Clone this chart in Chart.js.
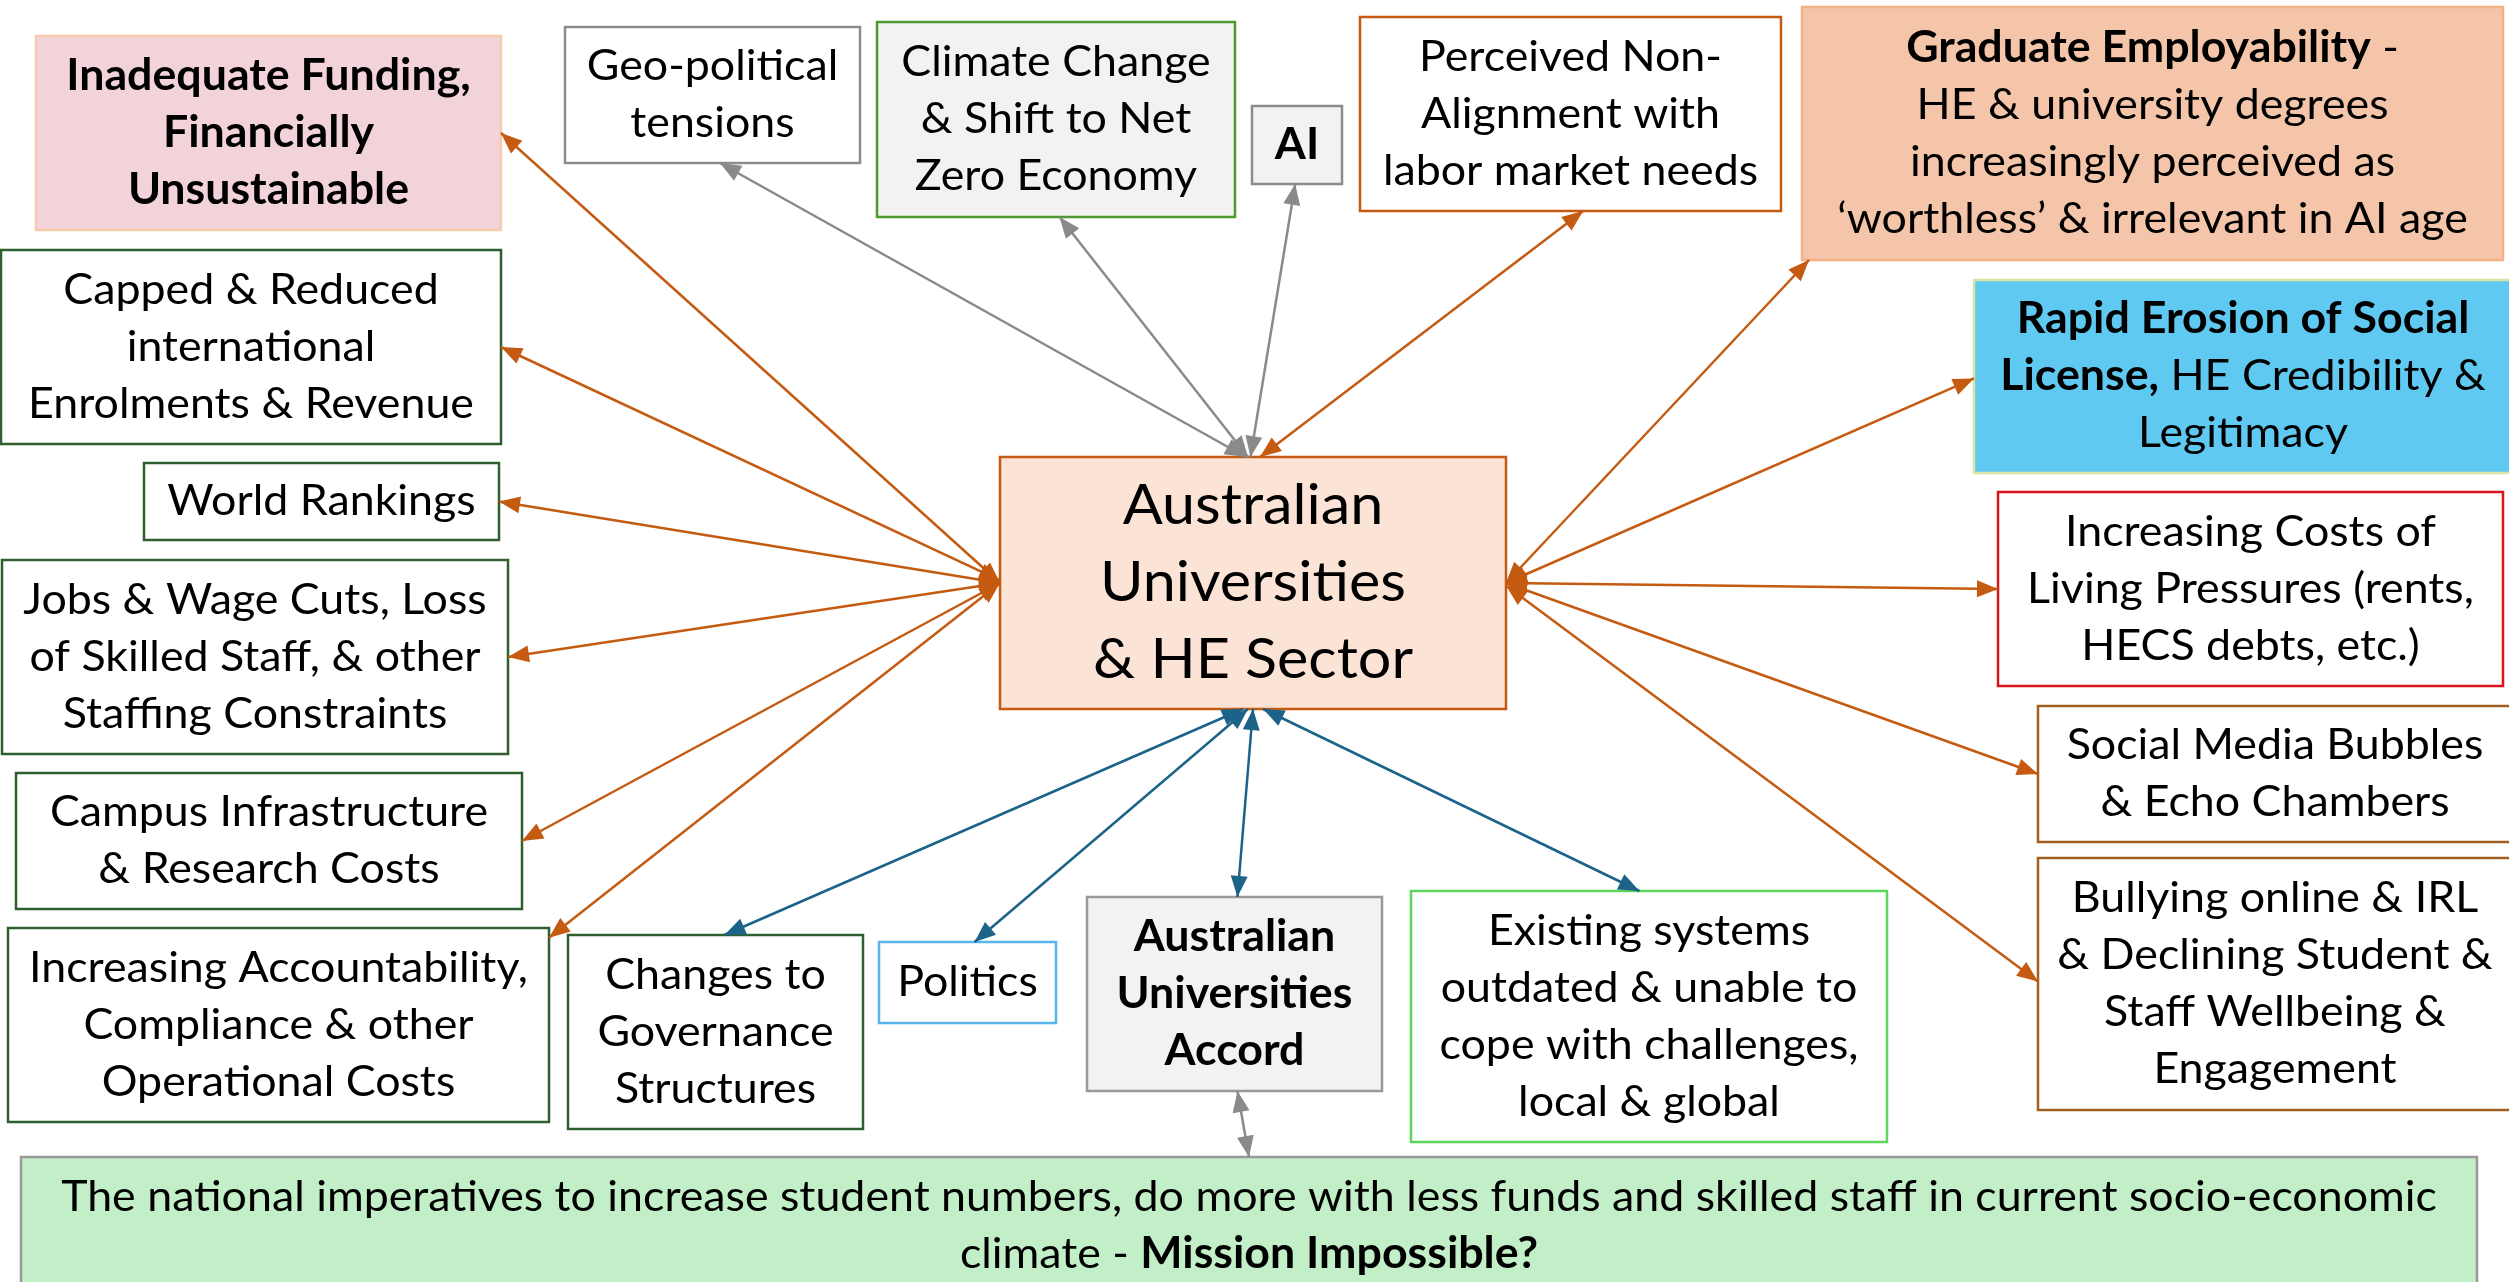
<!DOCTYPE html>
<html><head><meta charset="utf-8">
<script src="https://cdn.jsdelivr.net/npm/chart.js@4/dist/chart.umd.min.js"></script>
<style>html,body{margin:0;padding:0;background:#fff;overflow:hidden}canvas{display:block}</style>
</head><body><canvas id="c" width="2509" height="1282"></canvas>
<script>
const W = 2509, H = 1282;

// ---- node labels (text content) ----
const nodeLabels = [
  "Australian\nUniversities\n& HE Sector",
  "**Inadequate Funding,**\n**Financially**\n**Unsustainable**",
  "Capped & Reduced\ninternational\nEnrolments & Revenue",
  "World Rankings",
  "Jobs & Wage Cuts, Loss\nof Skilled Staff, & other\nStaffing Constraints",
  "Campus Infrastructure\n& Research Costs",
  "Increasing Accountability,\nCompliance & other\nOperational Costs",
  "Changes to\nGovernance\nStructures",
  "Politics",
  "**Australian**\n**Universities**\n**Accord**",
  "Existing systems\noutdated & unable to\ncope with challenges,\nlocal & global",
  "Bullying online & IRL\n& Declining Student &\nStaff Wellbeing &\nEngagement",
  "Social Media Bubbles\n& Echo Chambers",
  "Increasing Costs of\nLiving Pressures (rents,\nHECS debts, etc.)",
  "**Rapid Erosion of Social**\n**License,** HE Credibility &\nLegitimacy",
  "**Graduate Employability** -\nHE & university degrees\nincreasingly perceived as\n\u2018worthless\u2019 & irrelevant in AI age",
  "Perceived Non-\nAlignment with\nlabor market needs",
  "**AI**",
  "Climate Change\n& Shift to Net\nZero Economy",
  "Geo-political\ntensions",
  "The national imperatives to increase student numbers, do more with less funds and skilled staff in current socio-economic\nclimate - **Mission Impossible?**"
];

// ---- node layout (data-space rectangles: x0, y0, x1, y1) ----
const nodeRects = [
  [1000,457,1506,709],
  [36,36,501,230],
  [1,250,501,444],
  [144,463,499,540],
  [2,560,508,754],
  [16,773,522,909],
  [8,928,549,1122],
  [568,935,863,1129],
  [879,942,1056,1023],
  [1087,897,1382,1091],
  [1411,891,1887,1142],
  [2038,858,2512,1110],
  [2038,706,2512,842],
  [1998,492,2503,686],
  [1974,280,2512,473],
  [1802,7,2503,260],
  [1360,17,1781,211],
  [1252,106,1342,184],
  [877,22,1235,217],
  [565,27,860,163],
  [21,1157,2477,1294]
];

// ---- node styles ----
const nodeFills = ["#FBE3D6","#F2D3DA","#FFFFFF","#FFFFFF","#FFFFFF","#FFFFFF","#FFFFFF","#FFFFFF","#FFFFFF","#F2F2F2","#FFFFFF","#FFFFFF","#FFFFFF","#FFFFFF","#60C9F2","#F5C5A9","#FFFFFF","#F2F2F2","#F2F2F2","#FFFFFF","#C3EFC8"];
const nodeStrokes = ["#C55A11","#F8CBAD","#2F5F2F","#2F5F2F","#2F5F2F","#2F5F2F","#2F5F2F","#2F5F2F","#5AB4EC","#999999","#5CD65C","#A0601E","#A0601E","#D9141B","#D6E4A6","#F4B183","#C55A11","#8C8C8C","#4E9A32","#8C8C8C","#999999"];
const nodeFontSizes = [57,43,43,43,43,43,43,43,43,43,43,43,43,43,43,43,43,43,43,43,43];
const nodeLineHeights = [77,57,57,57,57,57,57,57,57,57,57,57,57,57,57,57,57,57,57,57,57];

// ---- edges (node indices + anchor side/fraction) ----
const edgeFrom =       [1,2,3,4,5,6,19,18,17,16,15,14,13,12,11,7,8,9,10,9];
const edgeFromAnchor = [["R",.5],["R",.5],["R",.5],["R",.5],["R",.5],["R",.05],["B",.525],["B",.51],["B",.48],["B",.53],["B",.01],["L",.51],["L",.5],["L",.5],["L",.49],["T",.53],["T",.54],["T",.51],["T",.48],["B",.51]];
const edgeTo =         [0,0,0,0,0,0,0,0,0,0,0,0,0,0,0,0,0,0,0,20];
const edgeToAnchor =   [["L",.5],["L",.49],["L",.5],["L",.5],["L",.5],["L",.5],["T",.486],["T",.49],["T",.495],["T",.514],["R",.5],["R",.5],["R",.5],["R",.5],["R",.51],["B",.48],["B",.49],["B",.5],["B",.52],["T",.5]];
const edgeColors = ["#C55A11","#C55A11","#C55A11","#C55A11","#C55A11","#C55A11","#8A8A8A","#8A8A8A","#8A8A8A","#C55A11","#C55A11","#C55A11","#C55A11","#C55A11","#C55A11","#1C6389","#1C6389","#1C6389","#1C6389","#8A8A8A"];

const FONT = "Lato, 'Noto Sans', sans-serif";
const TEXT_STRETCH = 1.04;

function anchorPoint(i, a) {
  const [x0,y0,x1,y1] = nodeRects[i];
  const side = a[0], f = a[1];
  if (side === "L") return {x:x0, y:y0 + f*(y1-y0)};
  if (side === "R") return {x:x1, y:y0 + f*(y1-y0)};
  if (side === "T") return {x:x0 + f*(x1-x0), y:y0};
  return {x:x0 + f*(x1-x0), y:y1};
}

const datasets = edgeFrom.map((f, k) => ({
  data: [anchorPoint(f, edgeFromAnchor[k]), anchorPoint(edgeTo[k], edgeToAnchor[k])],
  showLine: true,
  borderColor: edgeColors[k],
  backgroundColor: edgeColors[k],
  borderWidth: 2.5,
  pointRadius: 0,
  pointHoverRadius: 0,
  clip: false
}));

function parseLine(line) {
  const parts = line.split("**");
  const segs = [];
  parts.forEach((p, i) => { if (p.length) segs.push({t:p, b: i % 2 === 1}); });
  return segs;
}

const diagramPlugin = {
  id: "diagram",
  beforeDatasetsDraw(chart) {
    const ctx = chart.ctx, xs = chart.scales.x, ys = chart.scales.y;
    ctx.save();
    nodeRects.forEach((r, i) => {
      const px0 = xs.getPixelForValue(r[0]), px1 = xs.getPixelForValue(r[2]);
      const py0 = ys.getPixelForValue(r[1]), py1 = ys.getPixelForValue(r[3]);
      ctx.fillStyle = nodeFills[i];
      ctx.fillRect(px0, py0, px1-px0, py1-py0);
      ctx.strokeStyle = nodeStrokes[i];
      ctx.lineWidth = 2.5;
      ctx.strokeRect(px0, py0, px1-px0, py1-py0);
      // text
      const lines = nodeLabels[i].split("\n");
      const fs = nodeFontSizes[i], lh = nodeLineHeights[i];
      let cx = (px0+px1)/2, cy = (py0+py1)/2;
      if (i === 20) cy = ys.getPixelForValue(1225.5);
      ctx.fillStyle = "#000";
      ctx.textBaseline = "middle";
      ctx.textAlign = "left";
      lines.forEach((ln, li) => {
        const segs = parseLine(ln);
        let total = 0;
        segs.forEach(s => { ctx.font = (s.b ? "bold " : "") + fs + "px " + FONT; s.w = ctx.measureText(s.t).width; total += s.w; });
        const y = cy + (li - (lines.length-1)/2) * lh;
        ctx.save();
        ctx.translate(cx, y);
        ctx.scale(TEXT_STRETCH, 1);
        let x = -total/2;
        segs.forEach(s => { ctx.font = (s.b ? "bold " : "") + fs + "px " + FONT; ctx.fillText(s.t, x, 0); x += s.w; });
        ctx.restore();
      });
    });
    ctx.restore();
  },
  afterDatasetsDraw(chart) {
    const ctx = chart.ctx;
    ctx.save();
    chart.data.datasets.forEach((ds, k) => {
      const meta = chart.getDatasetMeta(k);
      const a = meta.data[0], b = meta.data[1];
      [[a,b],[b,a]].forEach(([tip, other]) => {
        const dx = tip.x - other.x, dy = tip.y - other.y;
        const len = Math.hypot(dx, dy) || 1;
        const ux = dx/len, uy = dy/len;
        const L = 21, hw = 8.5;
        const bx = tip.x - ux*L, by = tip.y - uy*L;
        ctx.fillStyle = ds.borderColor;
        ctx.beginPath();
        ctx.moveTo(tip.x, tip.y);
        ctx.lineTo(bx - uy*hw, by + ux*hw);
        ctx.lineTo(bx + uy*hw, by - ux*hw);
        ctx.closePath();
        ctx.fill();
      });
    });
    ctx.restore();
  }
};

new Chart(document.getElementById("c").getContext("2d"), {
  type: "scatter",
  data: { datasets },
  options: {
    responsive: false,
    animation: false,
    devicePixelRatio: 1,
    events: [],
    layout: { padding: 0 },
    scales: {
      x: { type: "linear", min: 0, max: W, display: false },
      y: { type: "linear", min: 0, max: H, reverse: true, display: false }
    },
    plugins: { legend: { display: false }, tooltip: { enabled: false } }
  },
  plugins: [diagramPlugin]
});
</script>
</body></html>
